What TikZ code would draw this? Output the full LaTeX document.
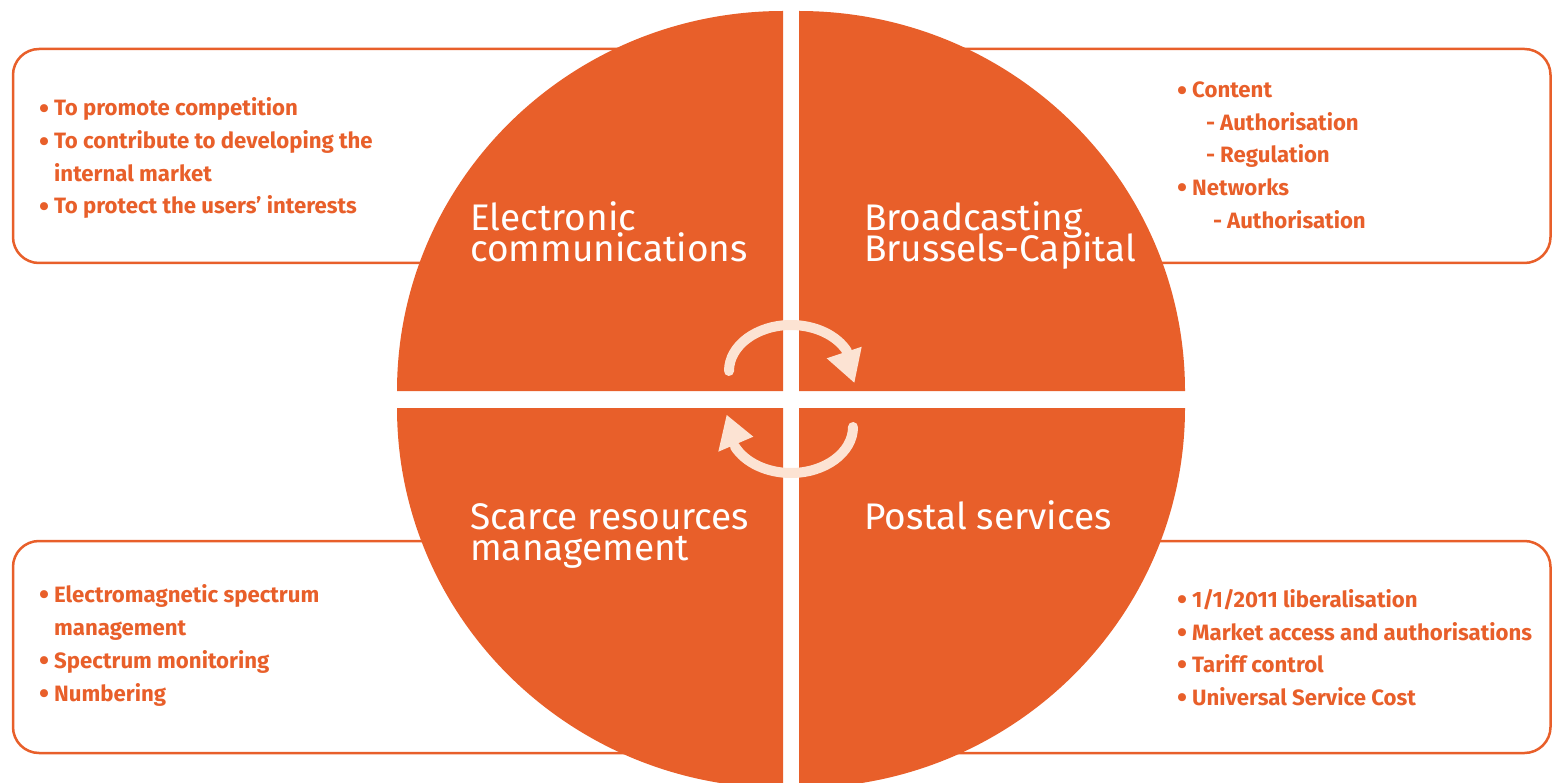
\documentclass[tikz,border=0pt]{standalone}
\usepackage{fontspec}
\setmainfont{Fira Sans}
\definecolor{ibpt}{HTML}{E85F2A}
\definecolor{peach}{HTML}{FCE3D3}
\tikzset{
  quad/.style={fill=ibpt},
  infobox/.style={draw=ibpt, line width=2.5pt, rounded corners=26pt},
  biglabel/.style={anchor=base west, inner sep=0pt, text=white, text height=26pt, text depth=0pt, font=\fontsize{37}{31}\selectfont},
  itemtxt/.style={anchor=base west, inner sep=0pt, text=ibpt, font=\bfseries\fontsize{22.2}{25}\selectfont},
  cyclearc/.style={draw=peach, line width=10pt, line cap=round},
  cyclehead/.style={fill=peach},
}
\newcommand{\bul}{\makebox[15pt][l]{\raisebox{-2.2pt}{\scalebox{1.3}{•}}}}
\newcommand{\dsh}{\makebox[14pt][l]{-}}
\begin{document}
\begin{tikzpicture}[x=1pt, y=-1pt]
\useasboundingbox (0,0) rectangle (1552,783);
% boxes
\draw[infobox] (13,49) rectangle (770,263);
\draw[infobox] (812,49) rectangle (1550.5,263);
\draw[infobox] (13,541) rectangle (770,753);
\draw[infobox] (812,541) rectangle (1550.5,753);
% quadrants
\fill[quad] (783,391) -- (397,391) arc[start angle=180, end angle=270, x radius=386, y radius=380] -- cycle;
\fill[quad] (799,391) -- (799,11) arc[start angle=270, end angle=360, x radius=386, y radius=380] -- cycle;
\fill[quad] (799,408) -- (1185,408) arc[start angle=0, end angle=90, x radius=386, y radius=380] -- cycle;
\fill[quad] (783,408) -- (783,788) arc[start angle=90, end angle=180, x radius=386, y radius=380] -- cycle;
% cycle arrows
\draw[cyclearc] (729,371) arc[start angle=180, end angle=335, x radius=62, y radius=46];
\fill[cyclehead] (826.7,358.3) -- (861.7,346.7) -- (854.3,382.7) -- cycle;
\draw[cyclearc] (853,427) arc[start angle=0, end angle=155, x radius=62, y radius=46];
\fill[cyclehead] (753.3,436.7) -- (718.3,451.7) -- (726.7,415) -- cycle;
% big labels
\node[biglabel] (ec1) at (470,231) {Electronic};
\node[biglabel] (ec2) at (470,262) {communications};
\node[biglabel] (bb1) at (864,231) {Broadcasting};
\node[biglabel] (bb2) at (864,262) {Brussels-Capital};
\node[biglabel] (sr1) at (470,529) {Scarce resources};
\node[biglabel] (sr2) at (470,560) {management};
\node[biglabel] (ps1) at (864,529) {Postal services};
% top-left items
\node[itemtxt] (tl1) at (39,116) {\bul To promote competition};
\node[itemtxt] (tl2) at (39,149) {\bul To contribute to developing the};
\node[itemtxt] (tl3) at (54,182) {internal market};
\node[itemtxt] (tl4) at (39,214) {\bul To protect the users’ interests};
% top-right items
\node[itemtxt] (tr1) at (1177,98) {\bul Content};
\node[itemtxt] (tr2) at (1206,130.7) {\dsh Authorisation};
\node[itemtxt] (tr3) at (1206,162.7) {\dsh Regulation};
\node[itemtxt] (tr4) at (1177,195.7) {\bul Networks};
\node[itemtxt] (tr5) at (1213,228.7) {\dsh Authorisation};
% bottom-left items
\node[itemtxt] (bl1) at (39,602.7) {\bul Electromagnetic spectrum};
\node[itemtxt] (bl2) at (54,635) {management};
\node[itemtxt] (bl3) at (39,668) {\bul Spectrum monitoring};
\node[itemtxt] (bl4) at (39,701.7) {\bul Numbering};
% bottom-right items
\node[itemtxt] (br1) at (1177,607.7) {\bul 1/1/2011 liberalisation};
\node[itemtxt] (br2) at (1177,640) {\bul Market access and authorisations};
\node[itemtxt] (br3) at (1177,672.7) {\bul Tariff control};
\node[itemtxt] (br4) at (1177,705) {\bul Universal Service Cost};
\end{tikzpicture}
\end{document}
